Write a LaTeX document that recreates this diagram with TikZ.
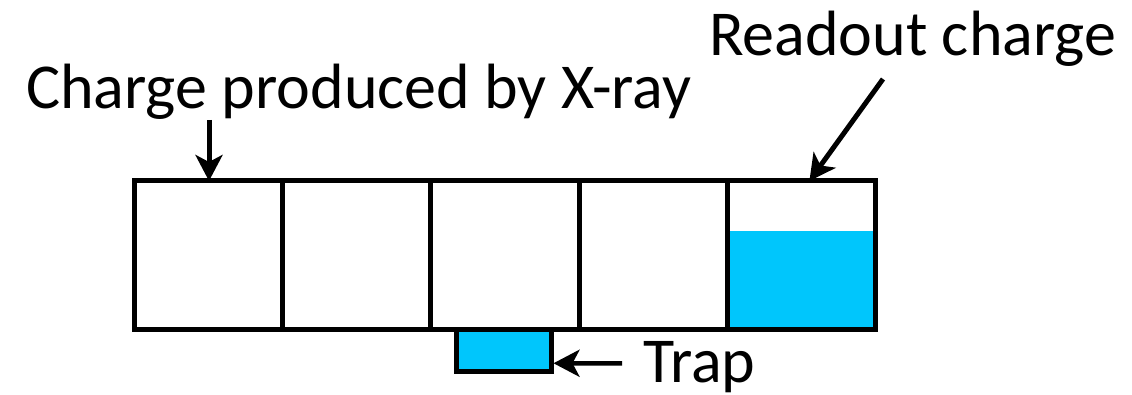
\documentclass[tikz,border=0pt]{standalone}
\usepackage{fontspec}
\setmainfont{Carlito}
\usetikzlibrary{arrows.meta,calc}
\definecolor{chargeblue}{RGB}{0,198,252}
\tikzset{
  cell/.style={draw=black, line width=5pt, minimum width=148.2pt, minimum height=148.5pt, inner sep=0pt, outer sep=0pt},
  trapbox/.style={draw=black, fill=chargeblue, line width=5pt, minimum width=95pt, minimum height=41.5pt, inner sep=0pt, outer sep=0pt},
  label/.style={font=\fontsize{64}{64}\selectfont, inner sep=0pt, outer sep=0pt},
  pointer/.style={line width=5pt, -{Stealth[length=26pt, width=27pt, inset=7pt]}},
}
\begin{document}
\begin{tikzpicture}[x=1pt, y=-1pt]
  \useasboundingbox (0,0) rectangle (1132,395);
  % charge collected in the last pixel
  \fill[chargeblue] (727.3,230.7) rectangle (875.5,329.5);
  % row of pixels
  \node[cell] (c1) at (208.6,255.25) {};
  \node[cell] (c2) at (356.8,255.25) {};
  \node[cell] (c3) at (505.0,255.25) {};
  \node[cell] (c4) at (653.2,255.25) {};
  \node[cell] (c5) at (801.4,255.25) {};
  % trap below the third pixel
  \node[trapbox] (trap) at (504,350.25) {};
  % labels
  \node[label, anchor=base west] (xray) at (26,108.5) {Charge produced by X-ray};
  \node[label, anchor=base west] (readout) at (709,56) {Readout charge};
  \node[label, anchor=base west] (traplabel) at (643,382.5) {Trap};
  % pointers
  \coordinate (xraytail) at (209,120);
  \coordinate (readtail) at (883,79);
  \coordinate (traptail) at (622,363.3);
  \draw[pointer] (xraytail) -- (xraytail |- c1.north);
  \draw[pointer] (readtail) -- ([xshift=8pt]c5.north);
  \draw[pointer, line width=4.5pt] (traptail) -- ([yshift=-13pt, xshift=2pt]trap.east);
\end{tikzpicture}
\end{document}
